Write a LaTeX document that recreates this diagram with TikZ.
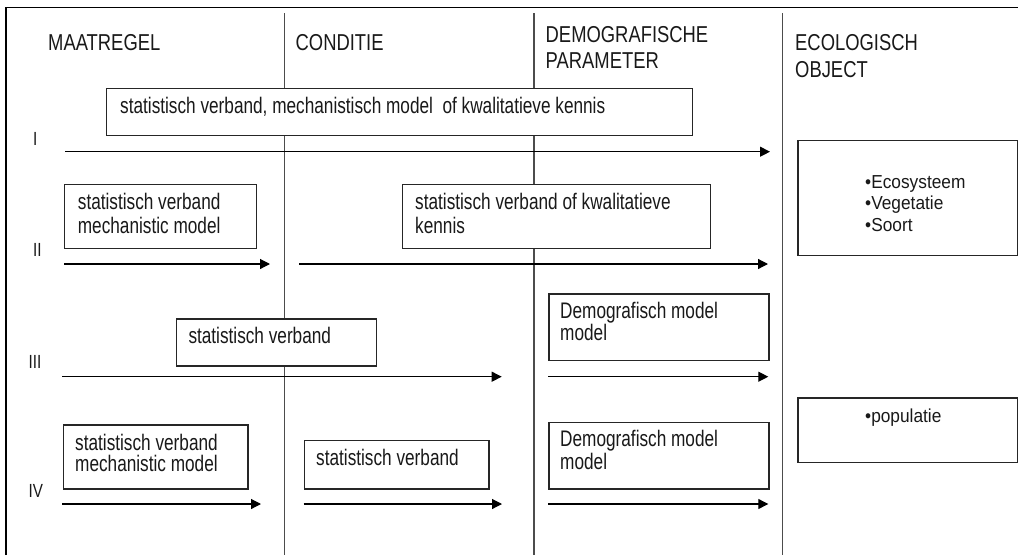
\documentclass[tikz,border=0pt]{standalone}
\usepackage{fontspec}
\setmainfont[FakeStretch=0.80]{Liberation Sans}
\newfontfamily\boxfont[FakeStretch=0.765]{Liberation Sans}
\newfontfamily\ecofont[FakeStretch=0.92]{Liberation Sans}
\usetikzlibrary{arrows.meta}
\begin{document}
\begin{tikzpicture}[x=1pt,y=-1pt,
  frameline/.style={line width=1.8pt, black},
  divider/.style={line width=1.4pt, black!70},
  boxshape/.style={draw=black!85, fill=white, line width=1.2pt, inner sep=0pt, anchor=north west},
  txt/.style={anchor=base west, inner sep=0pt, text=black!90, font=\boxfont\fontsize{22.5}{26}\selectfont},
  head/.style={anchor=base west, inner sep=0pt, text=black!90, font=\fontsize{23}{27}\selectfont},
  roman/.style={anchor=base west, inner sep=0pt, text=black!90, font=\fontsize{19}{22}\selectfont},
  eco/.style={anchor=base west, inner sep=0pt, text=black!90, font=\ecofont\fontsize{18.8}{21}\selectfont},
  flow/.style={line width=1.2pt, black, -{Triangle[length=10pt,width=10pt]}},
]
\useasboundingbox (0,0) rectangle (1018,555);

% outer frame (open at right and bottom)
\coordinate (fbl) at (6,555);
\coordinate (ftl) at (6,7.5);
\coordinate (ftr) at (1018,7.5);
\draw[frameline] (fbl) -- (ftl) -- (ftr);

% column dividers
\coordinate (d1t) at (284.5,13); \coordinate (d1b) at (284.5,555);
\coordinate (d2t) at (534,13);   \coordinate (d2b) at (534,555);
\coordinate (d3t) at (782.5,13); \coordinate (d3b) at (782.5,555);
\draw[divider] (d1t) -- (d1b);
\draw[divider] (d2t) -- (d2b);
\draw[divider] (d3t) -- (d3b);

% column headers
\node[head] (hmaat) at (48,50) {MAATREGEL};
\node[head] (hcond) at (295.5,50) {CONDITIE};
\node[head] (hdem1) at (545.5,42) {DEMOGRAFISCHE};
\node[head] (hdem2) at (545.5,68.3) {PARAMETER};
\node[head] (heco1) at (795,50) {ECOLOGISCH};
\node[head] (heco2) at (795,77) {OBJECT};

% row labels
\node[roman] (rI)   at (33,145)    {I};
\node[roman] (rII)  at (33,256.7)  {II};
\node[roman] (rIII) at (28.5,368.5) {III};
\node[roman] (rIV)  at (28.5,497.3) {IV};

% route I
\node[boxshape, minimum width=586pt, minimum height=47pt] (bI) at (106,88) {};
\node[txt] (tI) at (120,113.5) {statistisch verband, mechanistisch model\ \ of kwalitatieve kennis};
\coordinate (aIs) at (65,151.7); \coordinate (aIe) at (770,151.7);
\draw[flow] (aIs) -- (aIe);

% route II
\node[boxshape, minimum width=192pt, minimum height=64.5pt] (bIIa) at (64,183.5) {};
\node[txt] (tIIa1) at (77.7,209.3) {statistisch verband};
\node[txt] (tIIa2) at (77.7,233.5) {mechanistic model};
\node[boxshape, minimum width=308pt, minimum height=64.5pt] (bIIb) at (402,183.5) {};
\node[txt] (tIIb1) at (415,209.5) {statistisch verband of kwalitatieve};
\node[txt] (tIIb2) at (415,233) {kennis};
\coordinate (aIIas) at (64,264); \coordinate (aIIae) at (270,264);
\draw[flow] (aIIas) -- (aIIae);
\coordinate (aIIbs) at (299,264); \coordinate (aIIbe) at (768,264);
\draw[flow] (aIIbs) -- (aIIbe);

% route III
\node[boxshape, minimum width=200pt, minimum height=47pt] (bIIIa) at (176,318.3) {};
\node[txt] (tIIIa) at (188.3,343.3) {statistisch verband};
\node[boxshape, minimum width=220pt, minimum height=66.7pt] (bIIIb) at (548.3,293.3) {};
\node[txt] (tIIIb1) at (560,318.3) {Demografisch model};
\node[txt] (tIIIb2) at (560,340.7) {model};
\coordinate (aIIIas) at (62.3,376.7); \coordinate (aIIIae) at (501.7,376.7);
\draw[flow] (aIIIas) -- (aIIIae);
\coordinate (aIIIbs) at (548,376.7); \coordinate (aIIIbe) at (768.3,376.7);
\draw[flow] (aIIIbs) -- (aIIIbe);

% route IV
\node[boxshape, minimum width=184.6pt, minimum height=64pt] (bIVa) at (62.7,424.3) {};
\node[txt] (tIVa1) at (75,450) {statistisch verband};
\node[txt] (tIVa2) at (75,471.7) {mechanistic model};
\node[boxshape, minimum width=184.3pt, minimum height=48.3pt] (bIVb) at (304,440) {};
\node[txt] (tIVb) at (316,465.7) {statistisch verband};
\node[boxshape, minimum width=220pt, minimum height=66.6pt] (bIVc) at (548.3,421.7) {};
\node[txt] (tIVc1) at (560,446.7) {Demografisch model};
\node[txt] (tIVc2) at (560,469.3) {model};
\coordinate (aIVas) at (62.3,504); \coordinate (aIVae) at (261,504);
\draw[flow] (aIVas) -- (aIVae);
\coordinate (aIVbs) at (303.7,504); \coordinate (aIVbe) at (502,504);
\draw[flow] (aIVbs) -- (aIVbe);
\coordinate (aIVcs) at (548,504); \coordinate (aIVce) at (768.3,504);
\draw[flow] (aIVcs) -- (aIVce);

% ecological objects
\node[boxshape, minimum width=220pt, minimum height=115.5pt] (beco1) at (797.3,139.5) {};
\node[eco] (teco1) at (865,188.3) {\textbullet Ecosysteem};
\node[eco] (teco2) at (865,209.5) {\textbullet Vegetatie};
\node[eco] (teco3) at (865,231) {\textbullet Soort};
\node[boxshape, minimum width=220pt, minimum height=64.4pt] (beco2) at (797.3,397.3) {};
\node[eco] (teco4) at (865,422.7) {\textbullet populatie};
\end{tikzpicture}
\end{document}
